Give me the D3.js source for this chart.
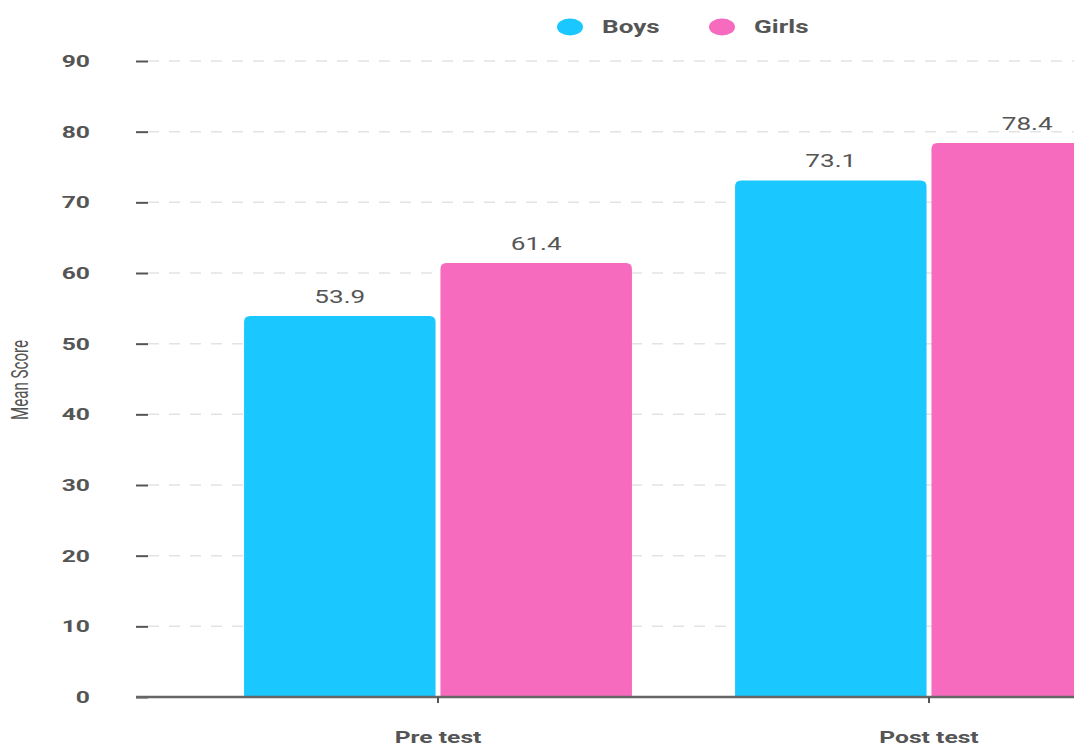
<!DOCTYPE html>
<html>
<head>
<meta charset="utf-8">
<script src="https://cdn.jsdelivr.net/npm/d3@7"></script>
<style>
  body { margin: 0; background: #fff; }
  svg { display: block; }
</style>
</head>
<body>
<div id="chart"></div>
<script>
var width = 1074;
var height = 745;
var stretch = 1.45; // text is drawn wide

// chart data
const categories = ["Pre test", "Post test"];
const seriesNames = ["Boys", "Girls"];
const boys = [53.9, 73.1];
const girls = [61.4, 78.4];
const yTicks = [0, 10, 20, 30, 40, 50, 60, 70, 80, 90];
const colors = ["#1ac8ff", "#f76bbf"];

const rows = categories.map(function(c, i) {
  return { cat: c, values: [boys[i], girls[i]] };
});

const svg = d3.select("#chart")
  .append("svg")
  .attr("width", width)
  .attr("height", height);

const y = d3.scaleLinear().domain([0, 90]).range([697, 61]);

const x = d3.scaleBand()
  .domain(categories)
  .range([192.5, 1174.5])
  .paddingInner(0.21)
  .paddingOuter(0.105);

const xs = d3.scaleBand()
  .domain(seriesNames)
  .range([0, x.bandwidth()])
  .paddingInner(0.025);

// grid lines
svg.append("g")
  .selectAll("line")
  .data(yTicks.filter(function(d) { return d > 0; }))
  .join("line")
  .attr("x1", 148)
  .attr("x2", width)
  .attr("y1", function(d) { return y(d); })
  .attr("y2", function(d) { return y(d); })
  .attr("stroke", "#e3e3e3")
  .attr("stroke-width", 1.5)
  .attr("stroke-dasharray", "11,10");

// y axis: short ticks and bold labels
const yAxis = svg.append("g")
  .attr("transform", "translate(148,0)")
  .call(d3.axisLeft(y).tickValues(yTicks).tickSize(12));
yAxis.select(".domain").remove();
yAxis.selectAll(".tick line").attr("stroke", "#555").attr("stroke-width", 2);
yAxis.selectAll(".tick text")
  .attr("x", 0)
  .attr("transform", "translate(-58,0) scale(" + stretch + ",1)")
  .attr("fill", "#555")
  .attr("font-family", "Roboto, sans-serif")
  .attr("font-weight", "bold")
  .attr("font-size", 17);

// bars with rounded tops
function barPath(x0, w, top, bottom, r) {
  return "M" + x0 + "," + bottom +
    "V" + (top + r) +
    "Q" + x0 + "," + top + " " + (x0 + r) + "," + top +
    "H" + (x0 + w - r) +
    "Q" + (x0 + w) + "," + top + " " + (x0 + w) + "," + (top + r) +
    "V" + bottom + "Z";
}

const groups = svg.append("g")
  .selectAll("g")
  .data(rows)
  .join("g")
  .attr("transform", function(d) { return "translate(" + x(d.cat) + ",0)"; });

groups.selectAll("path")
  .data(function(d) { return d.values.map(function(v, i) { return { name: seriesNames[i], v: v, i: i }; }); })
  .join("path")
  .attr("d", function(d) { return barPath(xs(d.name), xs.bandwidth(), y(d.v), y(0), 6); })
  .attr("fill", function(d) { return colors[d.i]; });

groups.selectAll("text")
  .data(function(d) { return d.values.map(function(v, i) { return { name: seriesNames[i], v: v }; }); })
  .join("text")
  .attr("transform", function(d) {
    return "translate(" + (xs(d.name) + xs.bandwidth() / 2) + "," + (y(d.v) - 13) + ") scale(" + stretch + ",1)";
  })
  .attr("text-anchor", "middle")
  .attr("fill", "#555")
  .attr("font-family", "Roboto, sans-serif")
  .attr("font-size", 18)
  .text(function(d) { return d.v.toFixed(1); });

// x axis
const xAxis = svg.append("g")
  .attr("transform", "translate(0,697)")
  .call(d3.axisBottom(x).tickSize(6).tickSizeOuter(0).tickPadding(28));
xAxis.select(".domain")
  .attr("d", "M136,0H" + width)
  .attr("stroke", "#666")
  .attr("stroke-width", 2.5);
xAxis.selectAll(".tick line").attr("stroke", "#555").attr("stroke-width", 2);
xAxis.selectAll(".tick text")
  .attr("transform", "scale(" + stretch + ",1)")
  .attr("fill", "#555")
  .attr("font-family", "Roboto, sans-serif")
  .attr("font-weight", "bold")
  .attr("font-size", 17);

// y axis title
svg.append("text")
  .attr("transform", "translate(28,380) scale(" + stretch + ",1) rotate(-90)")
  .attr("text-anchor", "middle")
  .attr("fill", "#555")
  .attr("font-family", "'Liberation Sans Narrow', 'Roboto', sans-serif")
  .attr("font-size", 16)
  .attr("textLength", 80)
  .attr("lengthAdjust", "spacingAndGlyphs")
  .text("Mean Score");

// legend
const legend = svg.append("g")
  .selectAll("g")
  .data(seriesNames)
  .join("g")
  .attr("transform", function(d, i) { return "translate(" + (570 + i * 152) + ",27)"; });
legend.append("ellipse")
  .attr("rx", 13)
  .attr("ry", 8.5)
  .attr("fill", function(d, i) { return colors[i]; });
legend.append("text")
  .attr("transform", "translate(32,0) scale(" + stretch + ",1)")
  .attr("dy", "0.35em")
  .attr("fill", "#555")
  .attr("font-family", "Roboto, sans-serif")
  .attr("font-weight", "bold")
  .attr("font-size", 18)
  .text(function(d) { return d; });
</script>
</body>
</html>
